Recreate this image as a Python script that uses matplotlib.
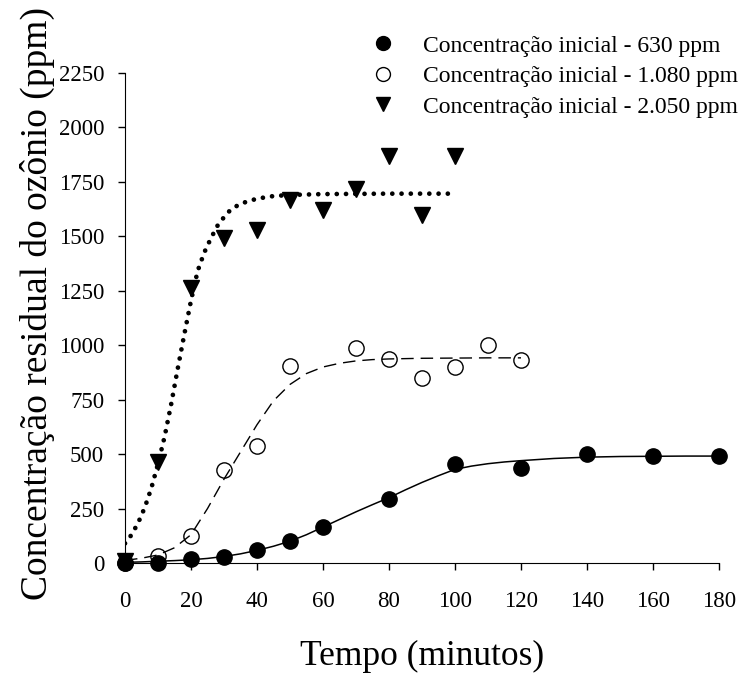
import matplotlib
matplotlib.use("Agg")
import matplotlib.pyplot as plt
from matplotlib.lines import Line2D

plt.rcParams['font.family'] = ['Liberation Serif', 'DejaVu Serif']

# measured points (tempo em minutos, concentracao em ppm)
t_630 = [0, 10, 20, 30, 40, 50, 60, 80, 100, 120, 140, 160, 180]
c_630 = [0, 0, 17, 29, 60, 102, 164, 294, 453, 434, 500, 492, 492]
t_1080 = [0, 10, 20, 30, 40, 50, 70, 80, 90, 100, 110, 120]
c_1080 = [0, 34, 125, 427, 537, 905, 988, 939, 850, 900, 1003, 934]
t_2050 = [0, 10, 20, 30, 40, 50, 60, 70, 80, 90, 100]
c_2050 = [10, 462, 1264, 1492, 1527, 1665, 1622, 1719, 1871, 1596, 1871]

# fitted curves
fit_t_630 = [0, 5, 10, 15, 20, 25, 30, 35, 40, 45, 50, 55, 60, 65, 70, 75, 80, 85,
             90, 95, 100, 105, 110, 115, 120, 130, 140, 150, 160, 170, 180]
fit_c_630 = [3, 5, 8, 11, 15, 21, 30, 42, 58, 77, 100, 130, 165, 200, 235, 268, 300, 336,
             370, 401, 430, 445, 456, 464, 470, 480, 486, 489, 490, 491, 491]
fit_t_1080 = [0, 5, 10, 15, 20, 25, 30, 35, 40, 45, 50, 55, 60, 65, 70, 75, 80, 90, 100, 110, 120]
fit_c_1080 = [12, 22, 37, 70, 130, 250, 385, 510, 635, 745, 820, 870, 900, 917, 928, 934, 937,
              940, 941, 942, 942]
fit_t_2050 = [0, 2, 4, 6, 8, 10, 12, 14, 16, 18, 20, 22, 24, 26, 28, 30, 32, 35, 40, 45,
              50, 60, 70, 80, 90, 100]
fit_c_2050 = [90, 130, 185, 255, 345, 455, 580, 730, 894, 1052, 1205, 1340, 1425, 1490, 1548,
              1588, 1622, 1650, 1673, 1685, 1690, 1694, 1695, 1696, 1696, 1696]

labels = ['Concentração inicial - 630 ppm',
          'Concentração inicial - 1.080 ppm',
          'Concentração inicial - 2.050 ppm']

fig = plt.figure(figsize=(7.38, 6.73), dpi=100)
ax = fig.add_axes([125 / 738, 1 - 563 / 673, 594 / 738, 490 / 673])

ax.plot(fit_t_630, fit_c_630, color='black', lw=1.1)
ax.plot(fit_t_1080, fit_c_1080, color='black', lw=1.0, dashes=(9, 5))
ax.plot(fit_t_2050, fit_c_2050, color='black', lw=3.4, linestyle=(0, (0.01, 1.95)),
        dash_capstyle='round')

ax.plot(t_630, c_630, 'o', color='black', ms=11, clip_on=False, zorder=3)
ax.plot(t_1080, c_1080, 'o', mfc='none', mec='black', mew=1.0, ms=11, clip_on=False, zorder=3)
ax.plot(t_2050, c_2050, 'v', color='black', ms=11, clip_on=False, zorder=3)

ax.set_xlim(0, 180)
ax.set_ylim(0, 2250)
ax.set_xticks(range(0, 181, 20))
ax.set_yticks(range(0, 2251, 250))
ax.spines['top'].set_visible(False)
ax.spines['right'].set_visible(False)
ax.tick_params(direction='out', length=5, width=1, labelsize=16.5)
ax.tick_params(axis='x', pad=15)
ax.tick_params(axis='y', pad=10)

ax.set_xlabel('Tempo (minutos)', fontsize=25.5, labelpad=20)
ax.set_ylabel('Concentração residual do ozônio (ppm)', fontsize=27)
ax.yaxis.set_label_coords(-0.118, 0.53)

handles = [Line2D([], [], marker='o', ls='none', color='black', ms=10),
           Line2D([], [], marker='o', ls='none', mfc='none', mec='black', ms=10),
           Line2D([], [], marker='v', ls='none', color='black', ms=10)]
fig.legend(handles, labels, loc='upper left', bbox_to_anchor=(371 / 738, 1 - 35 / 673),
           frameon=False, fontsize=17, borderpad=0, borderaxespad=0, handlelength=1.0,
           handletextpad=1.2, labelspacing=0.38)

fig.savefig('out.png', dpi=100)
